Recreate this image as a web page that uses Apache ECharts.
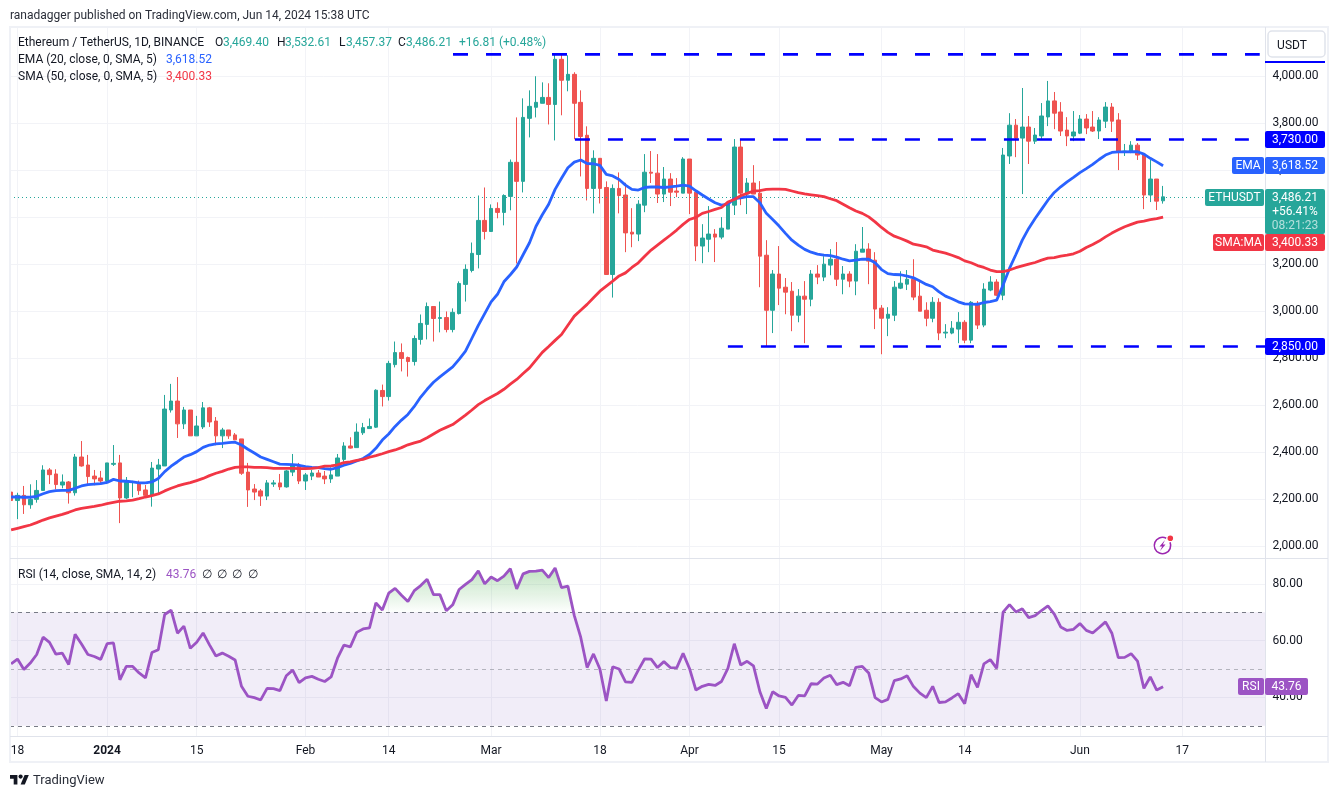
<!DOCTYPE html>
<html><head><meta charset="utf-8">
<style>html,body{margin:0;padding:0;background:#fff}#c{width:1339px;height:798px}</style>
<script src="https://cdn.jsdelivr.net/npm/echarts@6/dist/echarts.min.js"></script>
</head><body><div id="c"></div>
<script>
// Day index 0 = 17 Dec 2023, index 180 = 14 Jun 2024
const opens=[2231,2195,2217,2177,2200,2238,2325,2308,2261,2274,2228,2380,2346,2299,2291,2278,2349,2355,2206,2272,2270,2240,2217,2329,2342,2580,2618,2521,2580,2470,2508,2589,2533,2470,2495,2474,2457,2316,2244,2236,2214,2265,2270,2253,2316,2345,2278,2299,2312,2299,2287,2299,2370,2427,2420,2483,2501,2507,2663,2637,2773,2824,2803,2786,2880,2944,3020,2969,2973,2922,2990,3114,3173,3241,3386,3339,3437,3420,3488,3633,3552,3820,3867,3884,3909,3879,4071,3982,4007,3888,3748,3522,3650,3526,3156,3522,3494,3336,3328,3451,3591,3587,3498,3562,3511,3502,3647,3506,3277,3306,3328,3315,3349,3451,3698,3498,3545,3502,3238,3004,3158,3102,3085,2983,3064,3051,3158,3145,3196,3221,3136,3158,3128,3251,3264,3217,3013,2970,2983,3098,3115,3136,3064,3004,2970,3038,2907,2907,2924,2953,2877,3034,2941,3090,3124,3068,3660,3791,3736,3783,3723,3745,3826,3894,3847,3770,3745,3757,3817,3783,3766,3808,3868,3813,3677,3677,3706,3668,3494,3562,3469.40];
const closes=[2195,2217,2177,2200,2238,2325,2305,2263,2274,2228,2380,2342,2297,2287,2278,2355,2353,2206,2272,2275,2237,2217,2333,2346,2584,2618,2521,2580,2470,2512,2589,2529,2470,2495,2470,2453,2311,2240,2231,2214,2270,2270,2253,2321,2346,2278,2304,2312,2295,2287,2304,2376,2427,2418,2486,2505,2510,2664,2637,2778,2824,2799,2786,2884,2948,3020,2969,2973,2922,2995,3118,3178,3246,3386,3339,3437,3420,3492,3633,3552,3824,3871,3888,3909,3879,4071,3982,4007,3884,3743,3522,3650,3522,3156,3522,3492,3333,3328,3455,3591,3587,3498,3562,3506,3506,3647,3502,3277,3311,3328,3315,3353,3455,3698,3502,3545,3498,3234,3004,3158,3098,3081,2983,3064,3051,3158,3145,3200,3221,3136,3158,3128,3255,3264,3213,3009,2970,2987,3102,3119,3136,3060,3000,2970,3038,2907,2911,2928,2953,2877,3038,2941,3094,3124,3068,3664,3791,3736,3783,3723,3749,3830,3894,3842,3766,3745,3762,3817,3779,3766,3813,3868,3808,3677,3681,3706,3664,3494,3562,3468,3486.21];
const lows=[2192,2116,2138,2160,2186,2236,2265,2243,2247,2182,2216,2339,2257,2260,2264,2265,2342,2099,2202,2209,2219,2207,2169,2226,2342,2569,2461,2499,2470,2470,2499,2508,2430,2418,2457,2453,2304,2168,2197,2172,2197,2253,2240,2250,2299,2265,2240,2282,2295,2265,2270,2299,2360,2416,2420,2474,2501,2504,2595,2620,2761,2744,2722,2769,2858,2880,2871,2910,2910,2910,2986,3041,3165,3182,3305,3339,3395,3365,3429,3203,3505,3739,3824,3884,3794,3726,3833,3935,3731,3573,3471,3416,3458,3156,3058,3416,3251,3272,3298,3421,3545,3460,3464,3447,3485,3502,3413,3213,3204,3251,3209,3306,3349,3409,3451,3413,3498,3102,2851,2907,3026,2987,2915,2953,2864,3021,3115,3128,3153,3107,3072,3102,3068,3251,3115,2924,2817,2894,2958,3094,3090,3047,3000,2936,2953,2877,2885,2902,2864,2864,2864,2924,2932,3085,3064,3047,3626,3655,3498,3626,3711,3732,3787,3774,3745,3702,3723,3753,3753,3762,3732,3779,3762,3600,3660,3672,3643,3434,3464,3430,3457.37];
const highs=[2248,2228,2257,2264,2282,2345,2333,2328,2306,2278,2393,2448,2389,2325,2321,2355,2431,2389,2295,2279,2280,2261,2359,2372,2644,2691,2720,2593,2580,2555,2614,2593,2550,2504,2495,2482,2457,2355,2265,2244,2282,2282,2308,2325,2393,2355,2312,2325,2325,2321,2336,2393,2443,2464,2523,2525,2544,2668,2688,2789,2871,2863,2807,2897,2986,3037,3020,3041,2999,3012,3127,3199,3292,3492,3526,3454,3463,3497,3645,3824,3905,3939,3999,3973,3969,4092,4096,4088,4016,3939,3786,3684,3650,3552,3539,3590,3546,3438,3472,3668,3681,3668,3613,3587,3566,3655,3647,3506,3370,3447,3349,3400,3468,3732,3728,3566,3621,3553,3302,3175,3277,3141,3124,3094,3128,3175,3196,3234,3264,3294,3192,3170,3285,3358,3289,3251,3026,3017,3128,3170,3175,3221,3132,3038,3060,3055,2945,2958,2996,2962,3043,3043,3119,3149,3136,3694,3842,3817,3949,3830,3779,3885,3979,3932,3889,3825,3851,3834,3838,3851,3825,3889,3885,3842,3711,3723,3715,3672,3643,3562,3532.61];
const ema20=[2210,2210,2209,2209,2213,2224,2233,2237,2238,2238,2247,2257,2263,2265,2267,2272,2285,2278,2277,2274,2270,2270,2274,2289,2318,2341,2360,2380,2390,2403,2421,2431,2436,2438,2441,2443,2431,2413,2397,2380,2370,2360,2350,2349,2348,2345,2339,2336,2335,2331,2328,2335,2345,2353,2363,2374,2391,2417,2452,2478,2510,2537,2561,2595,2635,2668,2698,2721,2742,2763,2795,2830,2885,2940,2990,3040,3072,3125,3155,3188,3240,3291,3360,3410,3455,3518,3565,3610,3634,3643,3628,3627,3620,3582,3575,3560,3536,3518,3515,3526,3529,3528,3526,3529,3532,3536,3532,3512,3494,3477,3461,3451,3455,3479,3482,3487,3487,3461,3416,3390,3362,3331,3302,3281,3263,3251,3243,3238,3236,3230,3221,3214,3217,3221,3221,3206,3177,3160,3156,3155,3149,3142,3128,3114,3104,3082,3064,3053,3040,3031,3030,3029,3037,3041,3047,3111,3182,3241,3302,3352,3394,3433,3472,3505,3529,3550,3569,3589,3606,3624,3645,3664,3675,3677,3677,3678,3678,3668,3650,3635,3618.52];
const sma50=[2070,2077,2084,2091,2101,2112,2121,2129,2136,2145,2155,2162,2166,2170,2175,2182,2187,2192,2194,2197,2203,2210,2216,2223,2236,2247,2257,2265,2271,2280,2289,2301,2311,2319,2329,2336,2338,2338,2336,2336,2335,2332,2332,2332,2332,2331,2331,2332,2335,2341,2342,2347,2356,2359,2366,2370,2379,2386,2394,2403,2410,2420,2432,2440,2448,2462,2478,2494,2506,2518,2538,2558,2580,2603,2620,2635,2650,2668,2690,2710,2735,2759,2792,2825,2850,2876,2901,2940,2979,3004,3029,3057,3085,3107,3128,3150,3163,3186,3206,3234,3260,3281,3302,3323,3345,3369,3390,3399,3416,3424,3433,3441,3464,3475,3491,3501,3511,3513,3518,3519,3519,3518,3511,3504,3499,3495,3491,3487,3478,3470,3455,3440,3426,3416,3401,3380,3356,3335,3319,3309,3298,3285,3280,3274,3260,3253,3247,3238,3228,3214,3206,3194,3186,3175,3168,3168,3175,3185,3193,3200,3207,3217,3226,3228,3234,3238,3244,3255,3271,3284,3298,3316,3332,3346,3359,3369,3379,3383,3389,3394,3400.33];
const rsi14=[51.8,53.5,49.8,52.1,55.1,61.2,59.4,55.2,55.6,51.6,62.2,58.8,55.1,54.4,53.4,58.9,59.2,46.2,50.9,50.9,48.6,46.9,55.8,56.8,69.2,70.7,62.6,65.1,57.3,59.4,62.7,58.5,54.6,55.6,54.5,53.2,43.9,40.4,39.9,39.1,43.2,43.1,42.4,47.6,49.6,45.2,46.9,47.4,46.4,45.6,47.2,53.8,58.4,57.8,62.9,64.1,64.5,73.3,70.8,76.7,78.4,76,73.8,77.6,79.4,81.6,76.2,76.2,70.5,72.6,78,79.8,81.5,84.6,80,82.4,81.1,82.7,85.3,78.2,83.5,84.4,84.5,84.8,82.2,85.6,78.7,79.2,68.8,61.2,50.5,55.3,50,38.7,50.8,50,45.5,45.3,49.6,53.6,53.5,50.5,52.6,50.5,50.4,55.5,50.2,42.6,43.9,44.6,44.2,45.6,50.2,58.9,51.4,52.7,51.1,42,36.1,42,40.5,40,37.3,40.7,40.5,44.8,44.7,46.8,47.8,44.5,45.3,44.1,50.6,50.9,48.6,39.9,38.4,39.3,45.9,46.5,47.6,43.8,41.5,39.9,43.9,38.2,38.4,39.8,41.3,37.8,48,43.5,51.8,53.3,50.2,70,72.7,70.1,71.2,68.1,68.8,70.6,72.2,69.3,64.8,63.6,64,66,63.6,62.7,64.6,66.6,62.6,54,54.1,55.4,52.8,43.2,47.2,42.6,43.76];
const tickDays=[1,15,29,46,59,75,92,106,120,136,149,167,183];
const tickLabels=['18','2024','15','Feb','14','Mar','18','Apr','15','May','14','Jun','17'];
const priceTicks=[2000,2200,2400,2600,2800,3000,3200,3400,3600,3800,4000];
const rsiTicks=[40,60,80];
const levels=[4092,3730,2850];
const levelStart=[69.05,88.1,112];
const levelEnd=[195.1,193.4,198];
const lastPrice=3486.21;

const FONT='Roboto,sans-serif';
const UP='#26a69a',DOWN='#ef5350',EMA='#2962ff',SMA='#f23645',RSI='#9c54c4',INK='#131722',GRID='#f2f3f7',BORD='#e0e3eb';
const fmt=v=>v.toLocaleString('en-US',{minimumFractionDigits:2,maximumFractionDigits:2});
const chart=echarts.init(document.getElementById('c'),null,{renderer:'canvas'});

function T(x,y,s,fill,o){o=o||{};return {type:'text',z:o.z||50,silent:true,style:{x,y:y+1.5,text:s,fill:fill||INK,
  font:(o.w||'normal')+' '+(o.size||12)+'px '+FONT,textAlign:o.a||'left',textVerticalAlign:'middle',opacity:o.op==null?1:o.op}};}
function R(x,y,w,h,fill,o){o=o||{};return {type:'rect',z:o.z||40,silent:true,shape:{x,y,width:w,height:h,r:o.r||0},
  style:{fill:fill,stroke:o.stroke||null,lineWidth:o.lw||0}};}
function tag(x,y,w,h,fill,s,r){return [R(x,y,w,h,fill,{r:r||0}),T(x+w/2,y+h/2-1,s,'#fff',{a:'center'})];}

const graphics=[
  R(10,27,1318,735,'rgba(0,0,0,0)',{stroke:'#eff1f6',lw:2,z:30}),
  R(1265,27,1,735,BORD,{z:31}),
  R(10,558,1318,1,BORD,{z:31}),
  R(10,736,1318,1,BORD,{z:31}),
  T(10,14,'ranadagger published on TradingView.com, Jun 14, 2024 15:38 UTC','#2a2e39'),
  T(18,41,'Ethereum / TetherUS, 1D, BINANCE'),
  T(215,41,'O'),T(223,41,'3,469.40',UP),
  T(277,41,'H'),T(285,41,'3,532.61',UP),
  T(339,41,'L'),T(346,41,'3,457.37',UP),
  T(398,41,'C'),T(406,41,'3,486.21',UP),
  T(459,41,'+16.81 (+0.48%)',UP),
  T(18,58,'EMA (20, close, 0, SMA, 5)'),T(166,58,'3,618.52',EMA),
  T(18,75,'SMA (50, close, 0, SMA, 5)'),T(166,75,'3,400.33',SMA),
  T(18,573,'RSI (14, close, SMA, 14, 2)'),T(166,573,'43.76',RSI),
  T(202,573,'∅'),T(217,573,'∅'),T(232,573,'∅'),T(248,573,'∅'),
  R(1268,31,57,26,'#fff',{r:4,stroke:BORD,lw:1.5}),T(1292,44,'USDT',INK,{a:'center'}),
  R(1265,61,60,2,'#0000ff'),
  ...tag(1265,131,60,17,'#0000ff','3,730.00',2),
  ...tag(1232,157,32,17,EMA,'EMA',2),
  ...tag(1265,157,60,17,EMA,'3,618.52',2),
  ...tag(1205,189,59,17,UP,'ETHUSDT',2),
  R(1265,189,60,45,UP,{r:2}),
  T(1295,196,'3,486.21','#fff',{a:'center'}),T(1295,210,'+56.41%','#fff',{a:'center'}),T(1295,224,'08:21:23','#fff',{a:'center',op:.65}),
  ...tag(1213,234,51,17,SMA,'SMA:MA',2),
  ...tag(1265,234,60,17,SMA,'3,400.33',2),
  ...tag(1265,338,60,17,'#0000ff','2,850.00',2),
  ...tag(1238,678,26,17,RSI,'RSI',2),
  ...tag(1265,678,43,17,RSI,'43.76',2),
  {type:'polygon',z:50,silent:true,shape:{points:[[10,775],[17.4,775],[17.4,784.6],[13.7,784.6],[13.7,778.7],[10,778.7]]},style:{fill:INK}},
  {type:'polygon',z:50,silent:true,shape:{points:[[24.8,784.6],[20.6,784.6],[24.6,775],[28.8,775]]},style:{fill:INK}},
  {type:'circle',z:50,silent:true,shape:{cx:20.6,cy:776.6,r:2.1},style:{fill:INK}},
  T(33,779,'TradingView','#2a2e39',{size:13}),
  {type:'arc',z:50,silent:true,shape:{cx:1162.5,cy:545.5,r:8.2,startAngle:-0.4,endAngle:-1.1,clockwise:true},style:{stroke:'#9c27b0',lineWidth:1.6,fill:null}},
  {type:'polygon',z:50,silent:true,shape:{points:[[1165,540],[1159.5,546.5],[1162.2,546.5],[1160,551],[1165.5,544.5],[1162.8,544.5]]},style:{fill:'#9c27b0'}},
  {type:'circle',z:51,silent:true,shape:{cx:1170.3,cy:538.3,r:2.8},style:{fill:'#f23645'}}
];

const flat=()=>levels.map((lv,k)=>({type:'line',name:'Level '+lv,xAxisIndex:0,yAxisIndex:0,symbol:'none',silent:true,z:4,
  data:[[levelStart[k],lv],[levelEnd[k],lv]],lineStyle:{color:'#0000ff',width:2.6,type:[15,18],cap:'butt'}}));

const option={
  animation:false,
  textStyle:{fontFamily:FONT},
  grid:[{left:10,top:28,width:1255.5,height:530},{left:10,top:558,width:1255.5,height:178}],
  xAxis:[
    {type:'value',gridIndex:0,min:-0.172,max:196,axisLine:{show:false},axisLabel:{show:false},
     axisTick:{show:false,customValues:tickDays},splitLine:{show:true,lineStyle:{color:GRID,width:1}}},
    {type:'value',gridIndex:1,min:-0.172,max:196,axisLine:{show:false},
     axisTick:{show:false,customValues:tickDays},splitLine:{show:true,lineStyle:{color:GRID,width:1}},
     axisLabel:{customValues:tickDays,margin:9,color:INK,fontSize:12,fontFamily:FONT,showMinLabel:true,showMaxLabel:true,hideOverlap:false,
       formatter:v=>{const s=tickLabels[tickDays.indexOf(v)];return s==='2024'?'{b|2024}':s;},
       rich:{b:{fontWeight:'bold',fontSize:12,fontFamily:FONT,color:INK}}}}
  ],
  yAxis:[
    {type:'value',gridIndex:0,position:'right',min:1950.7,max:4204.1,axisLine:{show:false},
     axisTick:{show:false,customValues:priceTicks},splitLine:{show:true,lineStyle:{color:GRID,width:1}},
     axisLabel:{customValues:priceTicks,margin:7,color:INK,fontSize:12,fontFamily:FONT,formatter:fmt,padding:[0,0,2,0]}},
    {type:'value',gridIndex:1,position:'right',min:26.4,max:89.1,axisLine:{show:false},
     axisTick:{show:false,customValues:rsiTicks},splitLine:{show:true,lineStyle:{color:GRID,width:1}},
     axisLabel:{customValues:rsiTicks,margin:7,color:INK,fontSize:12,fontFamily:FONT,formatter:fmt,padding:[3,0,0,0]}}
  ],
  series:[
    {type:'candlestick',name:'ETHUSDT',xAxisIndex:0,yAxisIndex:0,barWidth:4,z:3,silent:true,
     data:opens.map((o,i)=>[i,o,closes[i],lows[i],highs[i]]),
     itemStyle:{color:UP,color0:DOWN,borderColor:UP,borderColor0:DOWN,borderWidth:1},
     markLine:{silent:true,symbol:'none',label:{show:false},animation:false,
       lineStyle:{color:UP,type:[1,3],width:1},data:[{yAxis:lastPrice}]}},
    ...flat(),
    {type:'line',name:'EMA 20',xAxisIndex:0,yAxisIndex:0,showSymbol:false,silent:true,z:5,
     data:ema20.map((v,i)=>[i,v]),lineStyle:{color:EMA,width:2.8}},
    {type:'line',name:'SMA 50',xAxisIndex:0,yAxisIndex:0,showSymbol:false,silent:true,z:6,
     data:sma50.map((v,i)=>[i,v]),lineStyle:{color:SMA,width:2.8}},
    {type:'line',name:'RSI overbought',xAxisIndex:1,yAxisIndex:1,showSymbol:false,silent:true,z:2,
     data:rsi14.map((v,i)=>[i,Math.max(v,70)]),lineStyle:{width:0},
     areaStyle:{origin:70,color:{type:'linear',x:0,y:566,x2:0,y2:612,global:true,
       colorStops:[{offset:0,color:'rgba(76,175,80,0.52)'},{offset:1,color:'rgba(76,175,80,0.02)'}]}}},
    {type:'line',name:'RSI',xAxisIndex:1,yAxisIndex:1,showSymbol:false,silent:true,z:5,
     data:rsi14.map((v,i)=>[i,v]),lineStyle:{color:RSI,width:2.8},
     markArea:{silent:true,itemStyle:{color:'rgba(126,87,194,0.11)'},data:[[{yAxis:70},{yAxis:30}]]},
     markLine:{silent:true,symbol:'none',label:{show:false},animation:false,
       data:[{yAxis:70,lineStyle:{color:'#787b86',type:[4,4],width:1}},
             {yAxis:50,lineStyle:{color:'#787b86',type:[4,4],width:1,opacity:.5}},
             {yAxis:30,lineStyle:{color:'#787b86',type:[4,4],width:1}}]}}
  ],
  graphic:{elements:graphics}
};
chart.setOption(option);
</script></body></html>
